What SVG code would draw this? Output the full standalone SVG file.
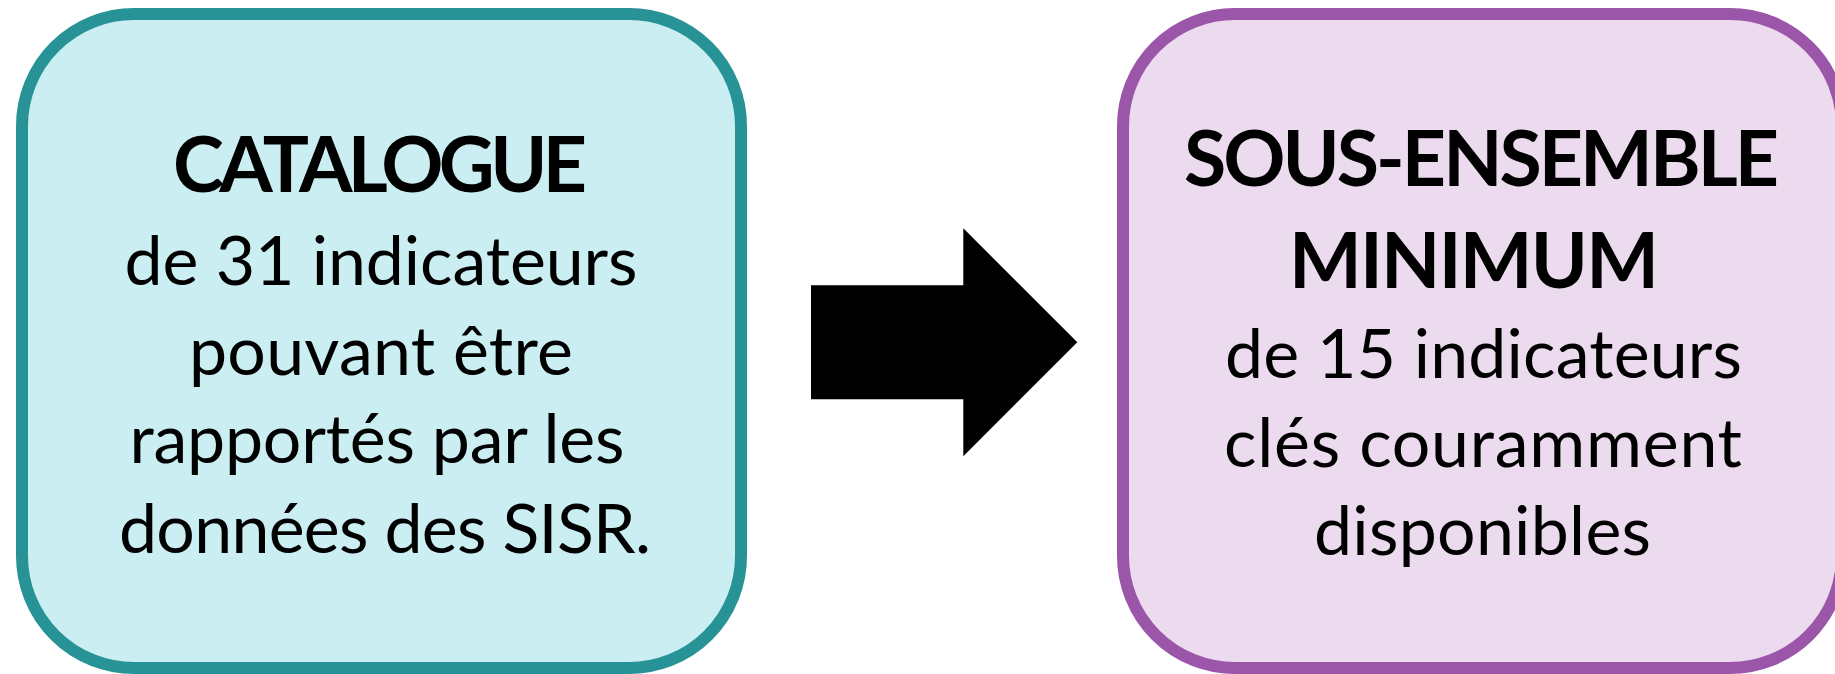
<svg xmlns="http://www.w3.org/2000/svg" width="1835" height="674" viewBox="0 0 1835 674">
<style>
.t{font-family:Lato,"Open Sans","Liberation Sans",sans-serif;fill:#000;text-anchor:middle}
.r{font-size:68px;font-weight:400}
.b{font-size:77px;font-weight:700}
.boxL{fill:#caeef1;stroke:#289396;stroke-width:12}
.boxR{fill:#ecdbee;stroke:#9b55a9;stroke-width:12}
</style>
<rect width="1835" height="674" fill="#ffffff"/>
<g id="catalogue">
<rect class="boxL" x="22" y="14" width="719" height="654" rx="112" ry="112"/>
<text class="t b" x="380" y="192" textLength="414" lengthAdjust="spacing">CATALOGUE</text>
<text class="t r" x="381" y="285" textLength="513" lengthAdjust="spacing">de 31 indicateurs</text>
<text class="t r" x="381" y="375" textLength="384" lengthAdjust="spacing">pouvant être</text>
<text class="t r" x="377" y="463" textLength="495" lengthAdjust="spacing">rapportés par les</text>
<text class="t r" x="385" y="553" textLength="532" lengthAdjust="spacing">données des SISR.</text>
</g>
<g id="connectors">
<polygon points="811,285.3 963.3,285.3 963.3,228.3 1077.3,342.3 963.3,456.3 963.3,399.3 811,399.3" fill="#000"/>
</g>
<g id="sous-ensemble">
<rect class="boxR" x="1123" y="14" width="719" height="654" rx="112" ry="112"/>
<text class="t b" x="1481.5" y="186" textLength="595" lengthAdjust="spacing">SOUS-ENSEMBLE</text>
<text class="t b" x="1474" y="288" textLength="370" lengthAdjust="spacing">MINIMUM</text>
<text class="t r" x="1483.5" y="378" textLength="517" lengthAdjust="spacing">de 15 indicateurs</text>
<text class="t r" x="1483" y="467" textLength="518" lengthAdjust="spacing">clés couramment</text>
<text class="t r" x="1482.5" y="555" textLength="337" lengthAdjust="spacing">disponibles</text>
</g>
</svg>
